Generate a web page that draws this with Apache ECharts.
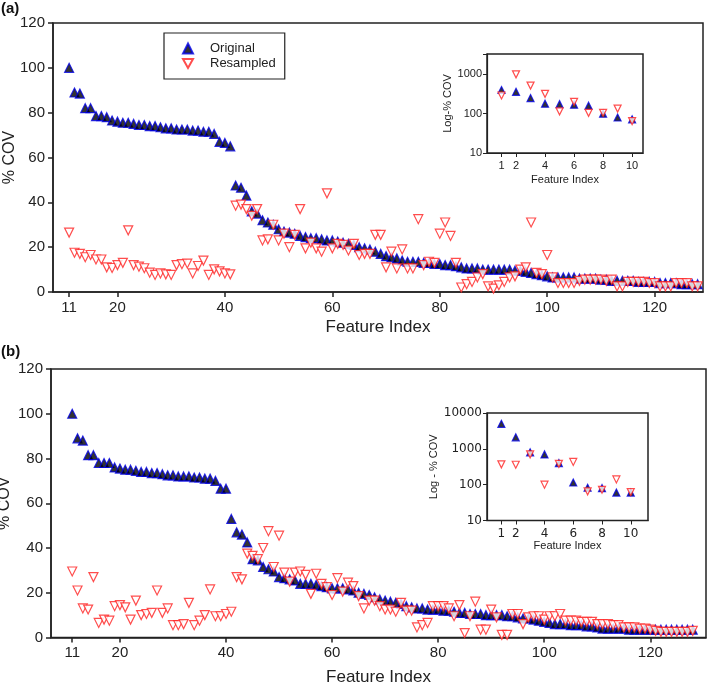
<!DOCTYPE html>
<html>
<head>
<meta charset="utf-8">
<script src="https://cdn.jsdelivr.net/npm/echarts@6/dist/echarts.min.js"></script>
<style>
    * { margin: 0; padding: 0; }
    html, body { width: 709px; height: 685px; background: #fff; }
    #main { width: 709px; height: 685px; }
</style>
</head>
<body>
<div id="main"></div>
<script>
// features 11..128 in the main panels, 1..10 in the insets
var featureStart = 11;
var insetStart = 1;
var mainTicks = [11, 20, 40, 60, 80, 100, 120];
var insetTicks = [1, 2, 4, 6, 8, 10];

// panel (a)
var aOriginal = [
    100, 89, 88.5, 82, 82, 78.5, 78.5, 78, 76.5, 76,
    75.5, 75.5, 75, 74.5, 74.5, 74, 74, 73.5, 73, 73,
    72.5, 72.5, 72.5, 72, 72, 71.5, 71.5, 70.5, 67, 66.5,
    65, 47.5, 46.5, 43, 36, 35, 32, 31, 30, 28,
    27, 26.5, 26, 25, 24.5, 24, 24, 23.5, 23, 23,
    22.5, 22, 21.5, 21, 20, 19.5, 19, 18, 17, 16,
    15.5, 15, 14, 13.5, 13.5, 13.5, 13, 13, 12.5, 12.5,
    12, 12, 11.5, 11, 10.5, 10.5, 10.5, 10, 10, 10,
    10, 10, 10, 9.5, 9.5, 9, 8.5, 8, 7.5, 7,
    6.5, 6.5, 6.5, 6.5, 6.5, 6, 6, 6, 6, 5.5,
    5.5, 5, 5, 5, 5, 5, 4.5, 4.5, 4.5, 4.5,
    4, 4, 4, 4, 3.5, 3.5, 3.5, 3.5
];
var aResampled = [
    26.5, 17.5, 17, 15.5, 16.5, 14.5, 14.5, 11, 10.7, 12,
    13, 27.5, 12, 11.3, 10.6, 8.6, 7.6, 8.3, 7.9, 7.6,
    12, 12.4, 12.7, 8.3, 11.6, 14, 7.6, 10.1, 9.2, 8.3,
    7.9, 38.5, 39, 37, 34, 37, 23, 23.5, 30, 23,
    26, 20, 25.5, 37, 19.5, 22, 19.5, 18, 44, 19.5,
    21.5, 21, 18.5, 21.5, 16.5, 17, 17, 25.5, 25.5, 11,
    18, 10.5, 19, 10.5, 10.5, 32.5, 12, 13.5, 13, 26,
    31, 25, 13, 2, 3.5, 4.5, 6.5, 8, 2.5, 1.5,
    3, 4.5, 6.5, 7, 10, 11, 31, 8.5, 8, 16.5,
    6.5, 4, 4, 4, 4, 5, 5.5, 5.5, 5.5, 5.5,
    5, 5.5, 2.5, 2.5, 4.5, 4.5, 4.5, 4.5, 4, 4,
    2.5, 2.5, 2.5, 4, 4, 4, 2.5, 2.5
];
var aInsetOriginal = [400, 360, 250, 180, 175, 170, 160, 100, 80, 72];
var aInsetResampled = [290, 1000, 520, 320, 115, 200, 105, 105, 135, 65];

// panel (b)
var bOriginal = [
    100, 89, 88, 81.5, 81.5, 78, 78, 78, 76, 75.5,
    75, 75, 74.5, 74, 74, 73.5, 73.5, 73, 72.5, 72.5,
    72, 72, 72, 71.5, 71.5, 71, 71, 70, 66.5, 66.5,
    53, 47, 46, 42.5, 35, 34.5, 31.5, 30.5, 29.5, 27,
    26.5, 26, 25.5, 24, 24, 24, 23.5, 23, 22.5, 22,
    22, 22, 21.5, 21, 20, 19.5, 19, 18, 17, 16.5,
    16, 15.5, 15, 14, 13.5, 13, 13, 12.5, 12.5, 12.5,
    12, 12, 11.5, 11, 11, 10.5, 10.5, 10.5, 10, 10,
    10, 10, 9.5, 9.5, 9, 8.5, 8.5, 8, 7.5, 7,
    6.5, 6, 6, 6, 5.5, 5.5, 5.5, 5, 5, 4.5,
    4, 4, 4, 4, 4, 3.5, 3.5, 3.5, 3.5, 3.5,
    3.5, 3.5, 3.5, 3.5, 3.5, 3.5, 3.5, 3.5
];
var bResampled = [
    29.5, 21, 13, 12.5, 27, 6.5, 8, 7.5, 14, 14.5,
    13.5, 8, 16.5, 10, 10.5, 11, 21, 11, 13, 5.5,
    5.5, 6, 15.5, 5.5, 7.5, 10, 21.5, 9.5, 9.5, 10.5,
    11.5, 27, 26, 37.5, 36.5, 35, 40, 47.5, 31.5, 45.5,
    29, 25, 29, 29.5, 28, 19.5, 28.5, 24, 22.5, 19,
    26.5, 20.5, 24.5, 23, 18.5, 13, 16.5, 16.5, 14, 12.5,
    12.5, 11.5, 15.5, 12, 12, 4.5, 5.5, 6.5, 14, 14,
    14, 13, 9.5, 14.5, 2, 9.5, 16, 3.5, 3.5, 12.5,
    9, 1.2, 1.2, 10.5, 10.5, 6, 9, 9.5, 9.5, 8,
    9.5, 9.5, 10.5, 7.5, 7.5, 7.5, 7, 7, 7, 6,
    6, 6, 5.5, 5.5, 4.5, 4.5, 4.5, 4, 4, 3.5,
    3, 2.5, 2.5, 2.5, 2.5, 2.5, 2.5, 3
];
var bInsetOriginal = [5000, 2100, 800, 700, 400, 115, 82, 80, 60, 60];
var bInsetResampled = [370, 360, 700, 100, 380, 430, 65, 72, 140, 62];

var ink = '#222';
var blue = '#0000e6';
var red = '#ff2020';
var arial = 'Liberation Sans, Arial, sans-serif';
var downTriangle = 'path://M0,0L10,0L5,9Z';

function pairs(start, values) {
    var out = [];
    for (var i = 0; i < values.length; i++) {
        out.push([start + i, values[i]]);
    }
    return out;
}

function isDecade(v) {
    var l = Math.log(v) / Math.LN10;
    return Math.abs(l - Math.round(l)) < 1e-6;
}

function mainX(grid, min, max, nameGap) {
    return {
        type: 'value', gridIndex: grid, min: min, max: max,
        name: 'Feature Index', nameLocation: 'middle', nameGap: nameGap,
        nameTextStyle: { fontSize: 17, color: ink, fontFamily: arial },
        axisLine: { onZero: false, lineStyle: { color: ink, width: 1.5 } },
        axisTick: { length: 5, customValues: mainTicks, lineStyle: { color: ink, width: 1.5 } },
        axisLabel: { customValues: mainTicks, margin: 8, fontSize: 15, color: ink, fontFamily: arial },
        splitLine: { show: false }
    };
}

function mainY(grid, nameGap) {
    return {
        type: 'value', gridIndex: grid, min: 0, max: 120, interval: 20,
        name: '% COV', nameLocation: 'middle', nameGap: nameGap, nameMoveOverlap: false,
        nameTextStyle: { fontSize: 16, color: ink, fontFamily: arial },
        axisLine: { show: true, lineStyle: { color: ink, width: 1.5 } },
        axisTick: { show: true, length: 5, lineStyle: { color: ink, width: 1.5 } },
        axisLabel: { margin: 8, fontSize: 15, color: ink, fontFamily: arial },
        splitLine: { show: false }
    };
}

function insetX(grid, max, nameGap, nameFont, labelFont, labelFamily) {
    return {
        type: 'value', gridIndex: grid, min: 0, max: max,
        name: 'Feature Index', nameLocation: 'middle', nameGap: nameGap,
        nameTextStyle: { fontSize: 11, color: ink, fontFamily: nameFont },
        axisLine: { onZero: false, lineStyle: { color: ink, width: 1.2 } },
        axisTick: { length: 4, customValues: insetTicks, lineStyle: { color: ink } },
        axisLabel: { customValues: insetTicks, margin: 7, fontSize: labelFont, color: ink, fontFamily: labelFamily },
        splitLine: { show: false }
    };
}

function insetY(grid, max, name, nameGap, labelFont, labelFamily) {
    return {
        type: 'log', logBase: 10, gridIndex: grid, min: 10, max: max,
        name: name, nameLocation: 'middle', nameGap: nameGap,
        nameTextStyle: { fontSize: 11, color: ink, fontFamily: arial },
        axisLine: { show: true, lineStyle: { color: ink, width: 1.2 } },
        axisTick: { show: true, length: 4, lineStyle: { color: ink } },
        axisLabel: {
            margin: 5, fontSize: labelFont, color: ink, fontFamily: labelFamily,
            formatter: function (v) { return isDecade(v) ? String(Math.round(v)) : ''; }
        },
        minorTick: { show: false },
        splitLine: { show: false }
    };
}

function original(name, xi, data, size) {
    return {
        name: name, type: 'scatter', xAxisIndex: xi, yAxisIndex: xi,
        symbol: 'triangle', symbolSize: size, data: data,
        itemStyle: { color: '#000', borderColor: blue, borderWidth: 1.2 }
    };
}

function resampled(name, xi, data, size) {
    return {
        name: name, type: 'scatter', xAxisIndex: xi, yAxisIndex: xi,
        symbol: downTriangle, symbolSize: size, data: data, z: 3,
        itemStyle: { color: '#fff', borderColor: red, borderWidth: 1.2 }
    };
}

function frame(rect) {
    return Object.assign({
        show: true, borderColor: ink, borderWidth: 1.5, backgroundColor: '#fff',
        outerBoundsMode: 'none', containLabel: false
    }, rect);
}

var chart = echarts.init(document.getElementById('main'), null, { renderer: 'canvas' });
chart.setOption({
    animation: false,
    backgroundColor: '#fff',
    graphic: [
        { type: 'text', left: 1, top: 1, style: { text: '(a)', font: 'bold 15px ' + arial, fill: '#111' } },
        { type: 'text', left: 1, top: 344, style: { text: '(b)', font: 'bold 15px ' + arial, fill: '#111' } }
    ],
    legend: {
        data: ['Original', 'Resampled'],
        orient: 'vertical', left: 164, top: 33,
        padding: [9, 9, 9, 18], itemGap: 2,
        itemWidth: 10, itemHeight: 10,
        borderColor: ink, borderWidth: 1.2, backgroundColor: '#fff',
        textStyle: { fontSize: 13, lineHeight: 13, color: ink, fontFamily: arial, padding: [0, 0, 0, 12] }
    },
    grid: [
        frame({ left: 53, top: 23, width: 650, height: 269 }),
        frame({ left: 487, top: 54, width: 156, height: 99 }),
        frame({ left: 51, top: 369, width: 655, height: 268.5 }),
        frame({ left: 487, top: 413, width: 161, height: 107.5 })
    ],
    xAxis: [
        mainX(0, 8, 129, 27),
        insetX(1, 10.75, 21, 'Liberation Sans Narrow, Arial Narrow, ' + arial, 11, arial),
        mainX(2, 7, 130.5, 31),
        insetX(3, 11.2, 19, arial, 12, 'DejaVu Sans, sans-serif')
    ],
    yAxis: [
        mainY(0, 35),
        insetY(1, 3300, 'Log-% COV', 32, 11, arial),
        mainY(2, 38),
        insetY(3, 10000, 'Log - % COV', 44, 12, 'DejaVu Sans, sans-serif')
    ],
    series: [
        original('Original', 0, pairs(featureStart, aOriginal), 9),
        resampled('Resampled', 0, pairs(featureStart, aResampled), 9),
        original('Original', 1, pairs(insetStart, aInsetOriginal), 7),
        resampled('Resampled', 1, pairs(insetStart, aInsetResampled), 7),
        original('Original', 2, pairs(featureStart, bOriginal), 9),
        resampled('Resampled', 2, pairs(featureStart, bResampled), 9),
        original('Original', 3, pairs(insetStart, bInsetOriginal), 7),
        resampled('Resampled', 3, pairs(insetStart, bInsetResampled), 7)
    ]
});
</script>
</body>
</html>
